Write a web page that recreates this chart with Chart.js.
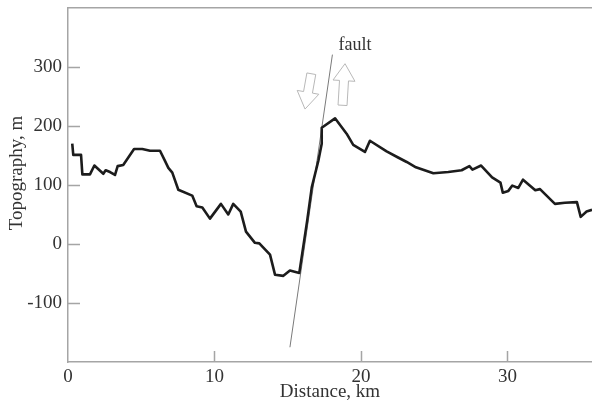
<!DOCTYPE html>
<html><head><meta charset="utf-8">
<script src="https://cdn.jsdelivr.net/npm/chart.js@4/dist/chart.umd.min.js"></script>
<style>html,body{margin:0;padding:0;background:#fff}#wrap{width:592px;height:405px}</style>
</head><body><div id="wrap"><canvas id="c" width="592" height="405"></canvas></div>
<script>
// ---- data ----
const distanceKm = [0.29,0.36,0.89,0.98,1.50,1.80,2.41,2.57,2.87,3.21,3.39,3.77,4.51,5.07,5.60,6.28,6.62,6.85,7.12,7.53,8.48,8.78,9.17,9.69,10.44,10.94,11.28,11.79,12.15,12.76,13.06,13.79,14.13,14.70,15.15,15.79,16.33,16.64,17.09,17.32,17.32,18.23,19.02,19.47,20.27,20.61,21.75,22.5,23.12,23.75,24.94,25.96,26.87,27.40,27.61,28.20,28.95,29.52,29.68,30.06,30.33,30.74,31.06,31.90,32.22,33.24,33.92,34.74,35.00,35.40,35.77];
const topographyM = [170,151,151,118,118,133,119,125,122,117,132,134,161,161,158,158,141,129,121,92,82,64,62,43,68,50,68,55,21,2,1,-18,-52,-54,-45,-49,40,96,141,170,197,213,187,168,156,175,157,147,139,130,120,122,125,132,126,133,113,104,87,90,99,95,109,91,93,68,70,71,46,55,58];
const faultX = [15.15, 18.05];
const faultY = [-175, 321];
const xTickValues = [0, 10, 20, 30];
const yTickValues = [-100, 0, 100, 200, 300];
const xRange = [0, 35.77];
const yRange = [-200, 400];
const xTitle = 'Distance, km';
const yTitle = 'Topography, m';
const faultLabel = 'fault';
const faultLabelAt = [19.59, 337];
const downArrowFrom = [16.61, 288.6], downArrowTo = [16.18, 228.7];
const upArrowFrom = [18.74, 235.1], upArrowTo = [18.91, 305.6];

// ---- styles ----
const FONT = "'Liberation Serif', 'Times New Roman', serif";
const TEXT = '#333333';
const AXIS = '#a5a5a5';

const profile = distanceKm.map((x, i) => ({x, y: topographyM[i]}));
const fault = faultX.map((x, i) => ({x, y: faultY[i]}));

const decor = {
  id: 'decor',
  afterDraw(chart) {
    const {ctx, chartArea: a, scales: {x, y}} = chart;
    ctx.save();
    // inward tick marks
    ctx.strokeStyle = AXIS; ctx.lineWidth = 1.5;
    ctx.beginPath();
    xTickValues.forEach(v => { if (v === xRange[0]) return; const px = Math.round(x.getPixelForValue(v)) + 0.5; ctx.moveTo(px, a.bottom); ctx.lineTo(px, a.bottom - 11); });
    yTickValues.forEach(v => { const py = Math.round(y.getPixelForValue(v)) + 0.5; ctx.moveTo(a.left, py); ctx.lineTo(a.left + 12, py); });
    ctx.stroke();
    // arrows
    const arrow = (f, t) => {
      const fx = x.getPixelForValue(f[0]), fy = y.getPixelForValue(f[1]);
      const tx = x.getPixelForValue(t[0]), ty = y.getPixelForValue(t[1]);
      const len = Math.hypot(tx - fx, ty - fy);
      const dx = (tx - fx) / len, dy = (ty - fy) / len;
      const nx = -dy, ny = dx;
      const sw = 4.5, hw = 11, hl = 17;
      const bx = tx - dx * hl, by = ty - dy * hl;
      ctx.beginPath();
      ctx.moveTo(fx + nx * sw, fy + ny * sw);
      ctx.lineTo(bx + nx * sw, by + ny * sw);
      ctx.lineTo(bx + nx * hw, by + ny * hw);
      ctx.lineTo(tx, ty);
      ctx.lineTo(bx - nx * hw, by - ny * hw);
      ctx.lineTo(bx - nx * sw, by - ny * sw);
      ctx.lineTo(fx - nx * sw, fy - ny * sw);
      ctx.closePath();
      ctx.fillStyle = '#ffffff'; ctx.fill();
      ctx.strokeStyle = '#b8b8b8'; ctx.lineWidth = 1; ctx.stroke();
    };
    arrow(downArrowFrom, downArrowTo);
    arrow(upArrowFrom, upArrowTo);
    // fault label
    ctx.fillStyle = TEXT; ctx.font = '18px ' + FONT;
    ctx.textAlign = 'center'; ctx.textBaseline = 'middle';
    ctx.fillText(faultLabel, x.getPixelForValue(faultLabelAt[0]), y.getPixelForValue(faultLabelAt[1]));
    // y axis title
    ctx.translate(17, (a.top + a.bottom) / 2 - 12);
    ctx.rotate(-Math.PI / 2);
    ctx.font = '19px ' + FONT;
    ctx.fillText(yTitle, 0, 0);
    ctx.restore();
  }
};

new Chart(document.getElementById('c'), {
  type: 'line',
  data: {
    datasets: [
      {data: fault, borderColor: '#7a7a7a', borderWidth: 1, pointRadius: 0, tension: 0, order: 2},
      {data: profile, borderColor: '#1c1c1c', borderWidth: 2.6, pointRadius: 0, tension: 0, borderJoinStyle: 'round', order: 1}
    ]
  },
  options: {
    responsive: false, animation: false, devicePixelRatio: 1,
    layout: {padding: 0},
    plugins: {legend: {display: false}, tooltip: {enabled: false}},
    scales: {
      x: {
        type: 'linear', position: 'bottom', min: xRange[0], max: xRange[1],
        afterBuildTicks: s => { s.ticks = xTickValues.map(v => ({value: v})); },
        afterFit: s => { s.height = 43; s.paddingRight = 0; },
        grid: {display: false, drawTicks: false},
        border: {color: AXIS, width: 1.5},
        ticks: {padding: 4, color: TEXT, font: {family: FONT, size: 19}, maxRotation: 0, autoSkip: false},
        title: {display: true, text: xTitle, color: TEXT, font: {family: FONT, size: 19}, padding: {top: 0, bottom: 2}}
      },
      xTop: {
        type: 'linear', position: 'top', min: xRange[0], max: xRange[1],
        afterFit: s => { s.height = 8; s.paddingLeft = 0; s.paddingRight = 0; },
        grid: {display: false, drawTicks: false},
        border: {color: AXIS, width: 1.5},
        ticks: {display: false}
      },
      y: {
        type: 'linear', position: 'left', min: yRange[0], max: yRange[1],
        afterBuildTicks: s => { s.ticks = yTickValues.map(v => ({value: v})); },
        afterFit: s => { s.width = 68; s.paddingTop = 0; s.paddingBottom = 0; },
        grid: {display: false, drawTicks: false},
        border: {color: AXIS, width: 1.5},
        ticks: {padding: 6, color: TEXT, font: {family: FONT, size: 19}, autoSkip: false}
      }
    }
  },
  plugins: [decor]
});
</script>
</body></html>
